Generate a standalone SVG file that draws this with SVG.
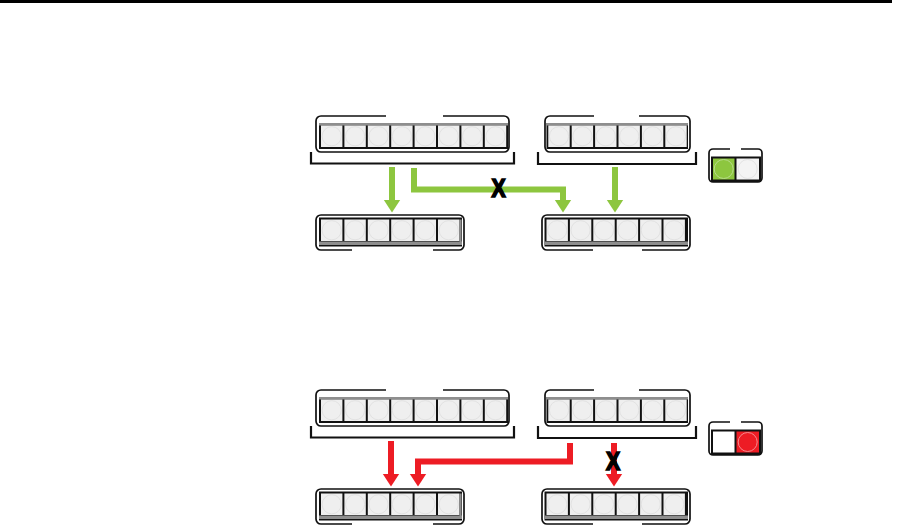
<svg xmlns="http://www.w3.org/2000/svg" xmlns:xlink="http://www.w3.org/1999/xlink" width="900" height="526" viewBox="0 0 900 526">
<style>
.outline{fill:none;stroke:#111;stroke-width:1.7}
.bracket{fill:none;stroke:#111;stroke-width:2.2}
.strip{fill:#111}
.band{fill:#8e8e8e}
.g{fill:none;stroke:#8dc63f;stroke-width:6;stroke-linejoin:miter}
.r{fill:none;stroke:#ed1c24;stroke-width:6;stroke-linejoin:miter}
.x{font-family:"Liberation Sans",Arial,sans-serif;font-weight:bold;font-size:25px;fill:#000;stroke:#000;stroke-width:1.6;text-anchor:middle}
</style>
<defs>
<g id="btn"><rect width="21.4" height="21.5" fill="#efefef"/><circle cx="10.7" cy="10.75" r="9.6" fill="none" stroke="#e2e2e2" stroke-width="1"/></g>
<marker id="ag" markerUnits="userSpaceOnUse" markerWidth="14" markerHeight="18" viewBox="0 -9 14 18" refX="0.5" refY="0" orient="auto"><path d="M0,-8.5 L13,0 L0,8.5 z" fill="#8dc63f"/></marker>
<marker id="ar" markerUnits="userSpaceOnUse" markerWidth="14" markerHeight="18" viewBox="0 -9 14 18" refX="0.5" refY="0" orient="auto"><path d="M0,-8.5 L13,0 L0,8.5 z" fill="#ed1c24"/></marker>
<g id="in8">
<path class="outline" d="M386,116 H321 A5,5 0 0 0 316,121 V147 A5,5 0 0 0 321,152 H504 A5,5 0 0 0 509,147 V121 A5,5 0 0 0 504,116 H443"/>
<rect class="strip" x="319" y="123" width="189" height="26"/>
<rect class="band" x="319" y="123" width="189" height="2.5"/>
<use xlink:href="#btn" x="321" y="125.5"/><use xlink:href="#btn" x="344.4" y="125.5"/><use xlink:href="#btn" x="367.8" y="125.5"/><use xlink:href="#btn" x="391.2" y="125.5"/><use xlink:href="#btn" x="414.6" y="125.5"/><use xlink:href="#btn" x="438" y="125.5"/><use xlink:href="#btn" x="461.4" y="125.5"/><use xlink:href="#btn" x="484.8" y="125.5"/>
<path class="bracket" d="M311,152 V163.5 H514 V152"/>
</g>
<g id="in6">
<path class="outline" d="M594,116 H550 A5,5 0 0 0 545,121 V147 A5,5 0 0 0 550,152 H685 A5,5 0 0 0 690,147 V121 A5,5 0 0 0 685,116 H639"/>
<rect class="strip" x="546.5" y="123" width="141.5" height="26"/>
<rect class="band" x="546.5" y="123" width="141.5" height="2.5"/>
<use xlink:href="#btn" x="548.3" y="125.5"/><use xlink:href="#btn" x="571.7" y="125.5"/><use xlink:href="#btn" x="595.1" y="125.5"/><use xlink:href="#btn" x="618.5" y="125.5"/><use xlink:href="#btn" x="641.9" y="125.5"/><use xlink:href="#btn" x="665.3" y="125.5"/>
<path class="bracket" d="M538,152 V164 H696 V152"/>
</g>
<g id="outL">
<path class="outline" d="M352,250 H321 A5,5 0 0 1 316,245 V220 A5,5 0 0 1 321,215 H459 A5,5 0 0 1 464,220 V245 A5,5 0 0 1 459,250 H433"/>
<rect class="strip" x="319" y="217.5" width="143" height="29"/>
<rect class="band" x="319" y="241.5" width="143" height="3.5"/>
<rect class="band" x="459.6" y="219.5" width="2" height="25.5"/>
<use xlink:href="#btn" x="321" y="219.5"/><use xlink:href="#btn" x="344.4" y="219.5"/><use xlink:href="#btn" x="367.8" y="219.5"/><use xlink:href="#btn" x="391.2" y="219.5"/><use xlink:href="#btn" x="414.6" y="219.5"/><use xlink:href="#btn" x="438" y="219.5"/>
</g>
<g id="outR">
<path class="outline" d="M593,250 H547 A5,5 0 0 1 542,245 V220 A5,5 0 0 1 547,215 H685 A5,5 0 0 1 690,220 V245 A5,5 0 0 1 685,250 H642"/>
<rect class="strip" x="544.5" y="217.5" width="143.5" height="29"/>
<rect class="band" x="544.5" y="241.5" width="143.5" height="3.5"/>
<use xlink:href="#btn" x="546.5" y="219.5"/><use xlink:href="#btn" x="569.9" y="219.5"/><use xlink:href="#btn" x="593.3" y="219.5"/><use xlink:href="#btn" x="616.7" y="219.5"/><use xlink:href="#btn" x="640.1" y="219.5"/><use xlink:href="#btn" x="663.5" y="219.5"/>
</g>
<g id="sw">
<path class="outline" d="M730,149 H713 A4,4 0 0 0 709,153 V178 A4,4 0 0 0 713,182 H758 A4,4 0 0 0 762,178 V153 A4,4 0 0 0 758,149 H741"/>
<rect class="strip" x="711" y="156.5" width="50" height="25.5"/>
</g>
</defs>

<rect id="topline" x="0" y="0" width="892" height="3" fill="#000"/>

<g id="input1-a"><use xlink:href="#in8"/></g>
<g id="input2-a"><use xlink:href="#in6"/></g>
<g id="switch-a">
<use xlink:href="#sw"/>
<rect x="713" y="158.5" width="21.5" height="21" fill="#8dc63f"/>
<circle cx="723.7" cy="169" r="9.5" fill="none" stroke="#b8dc8c" stroke-width="1"/>
<rect x="736.5" y="158.5" width="22.5" height="21" fill="#f4f4f4"/>
<circle cx="747.7" cy="169" r="9.5" fill="none" stroke="#e4e4e4" stroke-width="1"/>
</g>
<g id="output1-a"><use xlink:href="#outL"/></g>
<g id="output2-a"><use xlink:href="#outR"/></g>

<g id="input1-b" transform="translate(0,274)"><use xlink:href="#in8"/></g>
<g id="input2-b" transform="translate(0,274)"><use xlink:href="#in6"/></g>
<g id="switch-b" transform="translate(0,273)">
<use xlink:href="#sw"/>
<rect x="713" y="158.5" width="21.5" height="21" fill="#ffffff"/>
<rect x="736.5" y="158.5" width="22.5" height="21" fill="#ed1c24"/>
<circle cx="747.7" cy="169" r="9.5" fill="none" stroke="#f58a8e" stroke-width="1"/>
</g>
<g id="output1-b" transform="translate(0,274)"><use xlink:href="#outL"/></g>
<g id="output2-b" transform="translate(0,274)"><use xlink:href="#outR"/></g>

<g id="connectors">
<path class="g" d="M392,167 V200" marker-end="url(#ag)"/>
<path class="g" d="M414,168 V189.5 H563 V200" marker-end="url(#ag)"/>
<path class="g" d="M615,167 V200" marker-end="url(#ag)"/>
<text class="x" transform="translate(498.5,196.5) scale(0.85,1)">X</text>
<path class="r" d="M391,441 V474" marker-end="url(#ar)"/>
<path class="r" d="M570,443 V461.5 H418 V474" marker-end="url(#ar)"/>
<path class="r" d="M614,443 V474" marker-end="url(#ar)"/>
<text class="x" transform="translate(613,469.5) scale(0.85,1)">X</text>
</g>
</svg>
